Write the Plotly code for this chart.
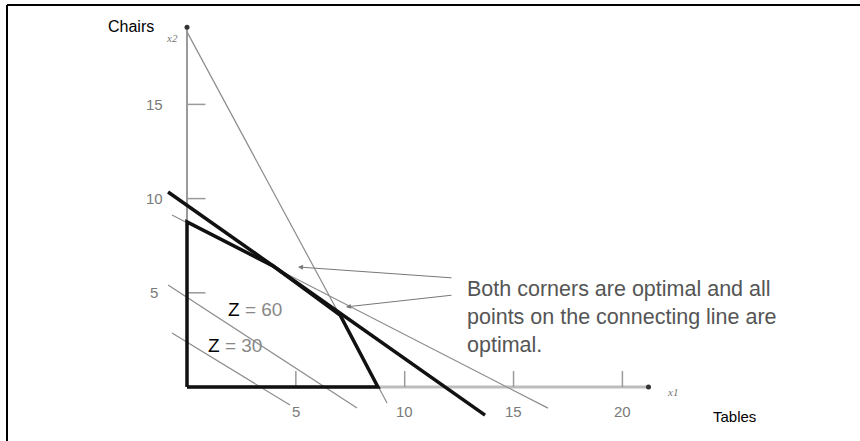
import plotly.graph_objects as go

# ---- data (chart units: x1 = tables, x2 = chairs) ----
x_ticks = [5, 10, 15, 20]
y_ticks = [5, 10, 15]
x_tick_labels = ["5", "10", "15", "20"]
y_tick_labels = ["5", "10", "15"]

feasible_x = [0, 0, 3.95, 7.03, 8.77, 0]
feasible_y = [0, 8.76, 6.43, 3.82, 0, 0]

objective_x = [-0.87, 13.69]
objective_y = [10.35, -1.49]

constraint1_x = [-0.69, 16.58]
constraint1_y = [9.13, -1.12]

constraint2_x = [0, 9.19]
constraint2_y = [18.85, -0.85]

z60_x = [-0.87, 7.81]
z60_y = [5.41, -1.12]

z30_x = [-0.69, 4.73]
z30_y = [2.87, -0.96]

x_axis_end = 21.2
y_axis_end = 19.1

arrow_tips_x = [5.10, 7.30]
arrow_tips_y = [6.37, 4.25]
arrow_tails_x = [12.22, 12.22]
arrow_tails_y = [5.79, 4.88]

note_text = "Both corners are optimal and all<br>points on the connecting line are<br>optimal."

# ---- figure ----
FONT = "Liberation Sans, Arial, sans-serif"
GRAY_THIN = "#8c8c8c"
fig = go.Figure()

def line(x, y, color, width):
    fig.add_trace(go.Scatter(x=x, y=y, mode="lines",
                             line=dict(color=color, width=width),
                             hoverinfo="skip", showlegend=False))

# axes
line([0, x_axis_end], [0, 0], "#bdbdbd", 3)
line([0, 0], [0, y_axis_end], "#9a9a9a", 2)
fig.add_trace(go.Scatter(x=[x_axis_end, 0], y=[0, y_axis_end], mode="markers",
                         marker=dict(color="#333", size=5),
                         hoverinfo="skip", showlegend=False))

# ticks
tick_len_x = 0.85
tick_len_y = 0.85
tx, ty = [], []
for v in x_ticks:
    tx += [v, v, None]
    ty += [0, tick_len_x, None]
line(tx, ty, "#9a9a9a", 1.5)
tx, ty = [], []
for v in y_ticks:
    tx += [0, tick_len_y, None]
    ty += [v, v, None]
line(tx, ty, "#9a9a9a", 1.5)

# thin lines
line(constraint2_x, constraint2_y, GRAY_THIN, 1.2)
line(constraint1_x, constraint1_y, GRAY_THIN, 1.2)
line(z60_x, z60_y, GRAY_THIN, 1.2)
line(z30_x, z30_y, GRAY_THIN, 1.2)

# thick lines
line(objective_x, objective_y, "#111", 3.5)
line(feasible_x, feasible_y, "#111", 3.5)

annotations = []
for v, t in zip(x_ticks, x_tick_labels):
    annotations.append(dict(x=v, y=-1.3, text=t, showarrow=False,
                            font=dict(family=FONT, size=15, color="#7a7a7a")))
for v, t in zip(y_ticks, y_tick_labels):
    annotations.append(dict(x=-1.5, y=v, text=t, showarrow=False,
                            font=dict(family=FONT, size=15, color="#7a7a7a")))

for x0, y0, x1, y1 in zip(arrow_tails_x, arrow_tails_y, arrow_tips_x, arrow_tips_y):
    annotations.append(dict(x=x1, y=y1, ax=x0, ay=y0, axref="x", ayref="y",
                            text="", showarrow=True, arrowhead=2, arrowsize=1,
                            arrowwidth=1, arrowcolor="#777", standoff=0))

annotations += [
    dict(x=-2.57, y=19.11, text="Chairs", showarrow=False,
         font=dict(family=FONT, size=16, color="#000")),
    dict(x=25.13, y=-1.59, text="Tables", showarrow=False,
         font=dict(family=FONT, size=15, color="#000")),
    dict(x=-0.69, y=18.52, text="<i>x2</i>", showarrow=False,
         font=dict(family="Liberation Serif, serif", size=11, color="#777")),
    dict(x=22.32, y=-0.27, text="<i>x1</i>", showarrow=False,
         font=dict(family="Liberation Serif, serif", size=11, color="#777")),
    dict(x=3.12, y=4.14, showarrow=False,
         text="Z <span style='color:#888'>= 60</span>",
         font=dict(family=FONT, size=19, color="#000")),
    dict(x=2.20, y=2.18, showarrow=False,
         text="Z <span style='color:#888'>= 30</span>",
         font=dict(family=FONT, size=19, color="#000")),
    dict(x=12.75, y=3.72, xanchor="left", yanchor="middle", align="left",
         showarrow=False, text=note_text,
         font=dict(family=FONT, size=21.5, color="#555")),
]

fig.update_layout(
    width=860, height=441, autosize=False,
    margin=dict(l=0, r=0, t=0, b=0),
    paper_bgcolor="white", plot_bgcolor="white",
    xaxis=dict(range=[-187 / 21.77, (860 - 187) / 21.77], visible=False, fixedrange=True),
    yaxis=dict(range=[-54 / 18.84, 387 / 18.84], visible=False, fixedrange=True),
    annotations=annotations,
    shapes=[
        dict(type="line", xref="paper", yref="paper", x0=7 / 860, x1=1,
             y0=1 - 5 / 441, y1=1 - 5 / 441, line=dict(color="#000", width=2)),
        dict(type="line", xref="paper", yref="paper", x0=7 / 860, x1=7 / 860,
             y0=0, y1=1 - 5 / 441, line=dict(color="#000", width=2)),
    ],
    showlegend=False,
)

fig.write_html("out.html", config={"displayModeBar": False},
               post_script="document.body.style.margin='0';document.body.style.overflow='hidden';")
